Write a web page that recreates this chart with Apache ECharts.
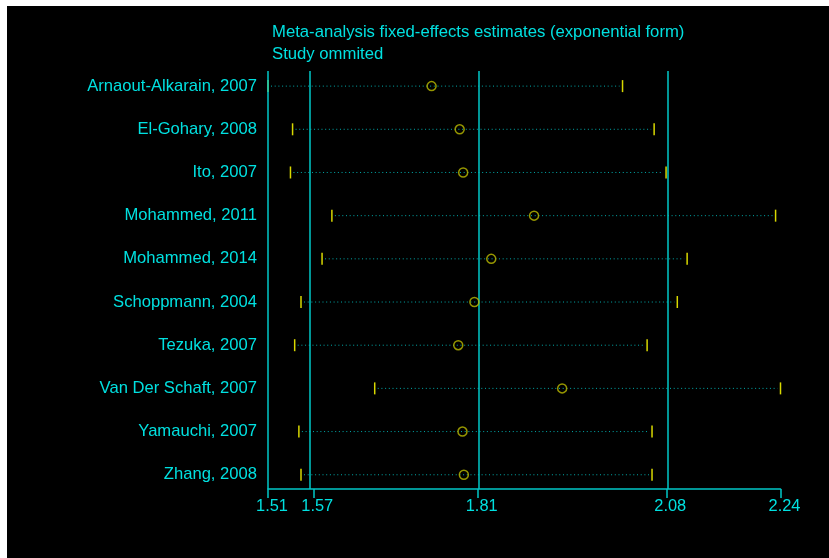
<!DOCTYPE html>
<html>
<head>
<meta charset="utf-8">
<script src="https://cdn.jsdelivr.net/npm/echarts@6/dist/echarts.min.js"></script>
<style>
  html, body { margin: 0; padding: 0; background: #ffffff; width: 829px; height: 558px; overflow: hidden; }
  #chart { position: absolute; left: 7px; top: 6px; width: 822px; height: 552px; }
</style>
</head>
<body>
<div id="chart"></div>
<script>
const studies = [
  'Arnaout-Alkarain, 2007', 'El-Gohary, 2008', 'Ito, 2007', 'Mohammed, 2011', 'Mohammed, 2014',
  'Schoppmann, 2004', 'Tezuka, 2007', 'Van Der Schaft, 2007', 'Yamauchi, 2007', 'Zhang, 2008'
];
const lowerCI   = [1.510, 1.545, 1.542, 1.601, 1.587, 1.557, 1.548, 1.662, 1.554, 1.557];
const estimates = [1.743, 1.783, 1.788, 1.889, 1.828, 1.804, 1.781, 1.929, 1.787, 1.789];
const upperCI   = [2.015, 2.060, 2.077, 2.233, 2.107, 2.093, 2.050, 2.240, 2.057, 2.057];
const refLines   = [1.51, 1.5745, 1.8087, 2.0773];
const tickValues = [1.51, 1.5745, 1.8087, 2.0773, 2.24];
const tickLabels = ['1.51', '1.57', '1.81', '2.08', '2.24'];
const titleLines = ['Meta-analysis fixed-effects estimates (exponential form)', 'Study ommited'];

const CYAN_TEXT = '#00e0e0';
const CYAN_LINE = '#00c8c8';
const CYAN_DOT = '#00aaaa';
const YELLOW_CAP = '#d8d800';
const YELLOW_MARK = '#bcbc00';
const FONT = '"Liberation Sans", Arial, sans-serif';

const rowIdx = studies.map((s, i) => i + 1);
const ciData = studies.map((s, i) => [rowIdx[i], lowerCI[i], upperCI[i]]);
const estData = studies.map((s, i) => [estimates[i], rowIdx[i]]);

const chart = echarts.init(document.getElementById('chart'));
chart.setOption({
  backgroundColor: '#000000',
  animation: false,
  title: {
    text: titleLines.join('\n'),
    left: 265, top: 15, padding: 0,
    textStyle: { color: CYAN_TEXT, fontSize: 16.7, fontWeight: 'normal', fontFamily: FONT, lineHeight: 22 }
  },
  grid: { left: 261, right: 48.5, top: 65, bottom: 69 },
  xAxis: {
    type: 'value', min: 1.51, max: 2.24,
    splitLine: { show: false },
    axisLine: { show: true, lineStyle: { color: CYAN_LINE, width: 1.5 } },
    axisTick: { show: true, customValues: tickValues, length: 9, lineStyle: { color: CYAN_LINE, width: 1.5 } },
    axisLabel: {
      customValues: tickValues, margin: 9,
      formatter: function (v) {
        let i = tickValues.findIndex(t => Math.abs(t - v) < 1e-6);
        return '{a|' + (i >= 0 ? tickLabels[i] : v.toFixed(2)) + '}';
      },
      rich: { a: { color: CYAN_TEXT, fontSize: 16.4, fontFamily: FONT, padding: [0, 0, 0, 8] } }
    }
  },
  yAxis: {
    type: 'value', inverse: true, min: 0.65, max: 10.33,
    splitLine: { show: false },
    axisLine: { show: false },
    axisTick: { show: false },
    axisLabel: {
      customValues: rowIdx, margin: 11,
      color: CYAN_TEXT, fontSize: 16.6, fontFamily: FONT,
      formatter: function (v) { return studies[Math.round(v) - 1] || ''; }
    }
  },
  series: [
    {
      type: 'custom',
      clip: false,
      encode: { x: [1, 2], y: 0 },
      data: ciData,
      renderItem: function (params, api) {
        const y = api.value(0);
        const pL = api.coord([api.value(1), y]);
        const pH = api.coord([api.value(2), y]);
        return {
          type: 'group',
          children: [
            { type: 'line', shape: { x1: pL[0] + 3, y1: pL[1], x2: pH[0] - 3, y2: pH[1] },
              style: { stroke: CYAN_DOT, lineWidth: 1, lineDash: [1, 2.7] } },
            { type: 'line', shape: { x1: pL[0], y1: pL[1] - 6, x2: pL[0], y2: pL[1] + 6 },
              style: { stroke: YELLOW_CAP, lineWidth: 1.5 } },
            { type: 'line', shape: { x1: pH[0], y1: pH[1] - 6, x2: pH[0], y2: pH[1] + 6 },
              style: { stroke: YELLOW_CAP, lineWidth: 1.5 } }
          ]
        };
      },
      markLine: {
        silent: true, symbol: 'none',
        label: { show: false },
        lineStyle: { color: CYAN_LINE, width: 1.5, type: 'solid' },
        data: refLines.map(v => ({ xAxis: v }))
      },
      z: 3
    },
    {
      type: 'scatter',
      data: estData,
      symbol: 'circle', symbolSize: 9,
      itemStyle: { color: 'rgba(0,0,0,0)', borderColor: YELLOW_MARK, borderWidth: 1.5 },
      z: 5
    }
  ]
});
</script>
</body>
</html>
